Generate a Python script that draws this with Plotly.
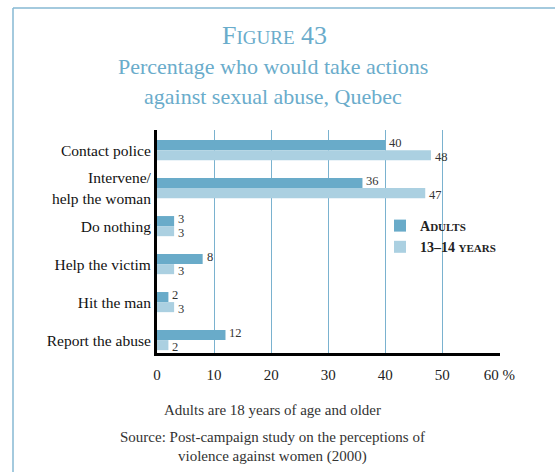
import plotly.graph_objects as go

# Survey results (percent)
actions = ["Contact police", "Intervene/<br>help the woman", "Do nothing",
           "Help the victim", "Hit the man", "Report the abuse"]
adults = [40, 36, 3, 8, 2, 12]
youth = [48, 47, 3, 3, 3, 2]
x_ticks = [0, 10, 20, 30, 40, 50, 60]
x_tick_labels = ["0", "10", "20", "30", "40", "50", "60 %"]

DARK = "#69abc9"
LIGHT = "#abd0e1"
FRAME = "#86b9d3"
SERIF = "Liberation Serif, Times New Roman, serif"

# plot area in pixels
L, R, T, B = 157, 500, 130, 353
W, H = 555, 472

def px(x):
    return (x - L) / (R - L)

def py(y):
    return (B - y) / (B - T)

fig = go.Figure()
fig.add_trace(go.Bar(
    y=actions, x=adults, orientation="h", name="<b>A<span style='font-size:11px'>DULTS</span></b>",
    marker=dict(color=DARK, line=dict(width=0)),
))
fig.add_trace(go.Bar(
    y=actions, x=youth, orientation="h",
    name="<b>13–14 <span style='font-size:11px'>YEARS</span></b>",
    marker=dict(color=LIGHT, line=dict(width=0)),
))

# value labels just past the end of each bar
for series, shift in ((adults, 7), (youth, -7)):
    for cat, v in zip(actions, series):
        fig.add_annotation(x=v, y=cat, xref="x", yref="y", text=str(v),
                           xanchor="left", yanchor="middle", xshift=3, yshift=shift,
                           showarrow=False, borderpad=0,
                           font=dict(family=SERIF, size=12.5, color="#333333"))

fig.update_layout(
    width=W, height=H,
    margin=dict(l=L, r=W - R, t=T, b=H - B, pad=0),
    paper_bgcolor="white", plot_bgcolor="white",
    barmode="group", bargap=0.47, bargroupgap=0,
    font=dict(family=SERIF, color="#222222"),
    showlegend=True,
    legend=dict(x=px(380), y=py(210), xanchor="left", yanchor="top",
                font=dict(family=SERIF, size=14, color="#222222"),
                bgcolor="rgba(0,0,0,0)", itemwidth=30, tracegroupgap=2,
                traceorder="normal"),
)

fig.update_xaxes(
    range=[0, 60.1], tickvals=x_ticks, ticktext=x_tick_labels,
    showgrid=True, gridcolor="#7ab2cf", gridwidth=1,
    zeroline=False, showline=True, linecolor="black", linewidth=3,
    ticks="", ticklabelstandoff=6,
    tickfont=dict(family=SERIF, size=15, color="#222222"),
)
fig.update_yaxes(
    categoryorder="array", categoryarray=actions,
    range=[5.34, -0.53],
    showline=True, linecolor="black", linewidth=3,
    ticks="", ticklabelstandoff=0, showgrid=False,
    tickfont=dict(family=SERIF, size=15.5, color="#111111"),
)

# frame around the figure
fig.add_shape(type="line", xref="paper", yref="paper",
              x0=px(13), x1=px(13), y0=py(8), y1=py(480),
              line=dict(color=FRAME, width=1.5))
fig.add_shape(type="line", xref="paper", yref="paper",
              x0=px(13), x1=px(560), y0=py(8), y1=py(8),
              line=dict(color=FRAME, width=1.5))

TITLE = "#6aaccb"

def note(x, y, text, size, color):
    fig.add_annotation(xref="paper", yref="paper", x=px(x), y=py(y), text=text,
                       xanchor="center", yanchor="middle", showarrow=False,
                       font=dict(family=SERIF, size=size, color=color))

note(274, 36, "F<span style='font-size:19px'>IGURE</span> 43", 26, TITLE)
note(273, 66, "Percentage who would take actions", 22, TITLE)
note(273, 96, "against sexual abuse, Quebec", 22, TITLE)

note(272, 410, "Adults are 18 years of age and older", 15, "#333333")
note(272, 437, "Source: Post-campaign study on the perceptions of", 15, "#333333")
note(272, 456, "violence against women (2000)", 15, "#333333")

fig.write_html("out.html")
